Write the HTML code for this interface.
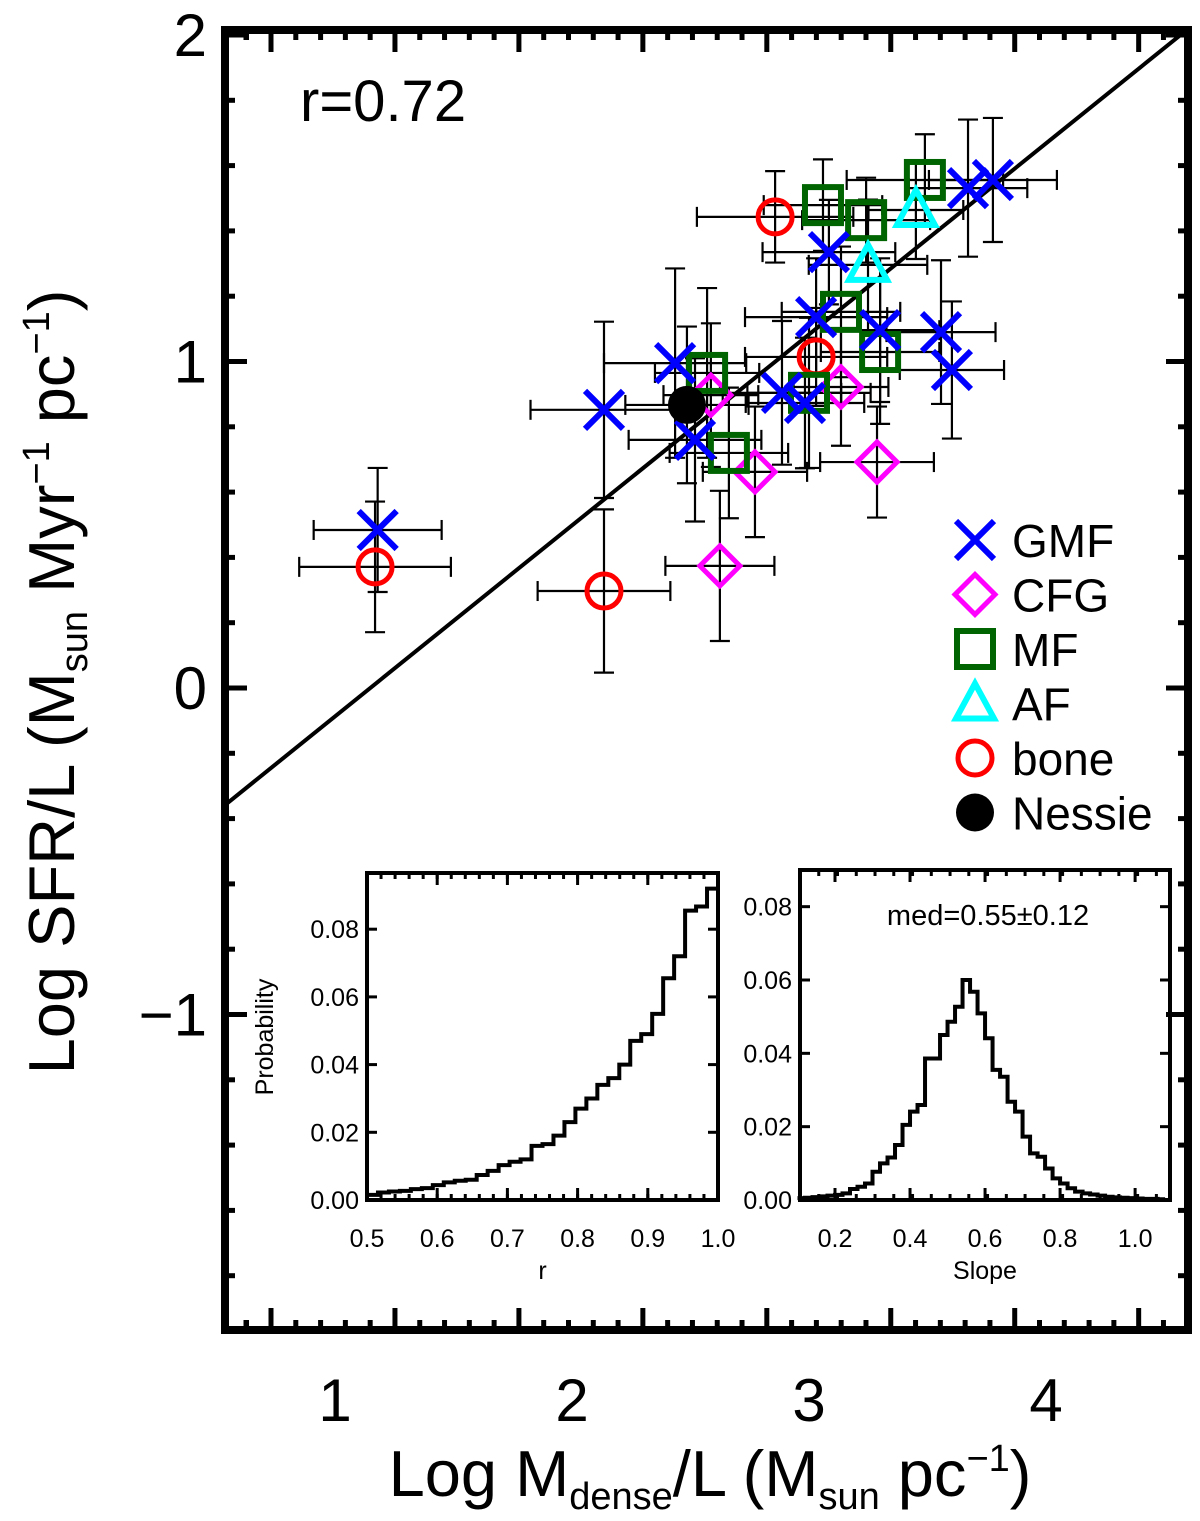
<!DOCTYPE html>
<html><head><meta charset="utf-8"><style>
body{margin:0;background:#fff;}
svg{display:block;font-family:"Liberation Sans",sans-serif;}
</style></head><body>
<svg id="chart" width="1200" height="1521" viewBox="0 0 1200 1521" xmlns="http://www.w3.org/2000/svg">
<g id="main"></g>
</svg>
<script>
// ---- main scatter data ----
const gmfX=[1.18,2.135,2.435,2.519,2.886,3.084,3.030,3.300,3.557,3.603,3.671,3.776,2.983];
const gmfY=[0.484,0.852,0.995,0.760,0.904,1.335,1.136,1.096,1.090,0.974,1.531,1.556,0.873];
const gmfXE=[0.27,0.31,0.30,0.28,0.25,0.28,0.30,0.25,0.23,0.22,0.25,0.27,0.25];
const gmfYE=[0.19,0.27,0.29,0.25,0.22,0.16,0.18,0.22,0.22,0.21,0.21,0.19,0.2];
const cfgX=[2.586,3.135,2.772,3.287,2.624];
const cfgY=[0.897,0.922,0.662,0.692,0.374];
const cfgXE=[0.2,0.2,0.22,0.24,0.23];
const cfgYE=[0.22,0.18,0.2,0.17,0.23];
const mfX=[3.059,3.241,3.489,3.135,3.300,2.570,3.000,2.662];
const mfY=[1.479,1.433,1.556,1.152,1.029,0.965,0.904,0.720];
const mfXE=[0.25,0.27,0.33,0.25,0.25,0.22,0.26,0.25];
const mfYE=[0.14,0.13,0.14,0.2,0.22,0.26,0.23,0.2];
const afX=[3.451,3.249];
const afY=[1.464,1.296];
const afXE=[0.2,0.25];
const afYE=[0.15,0.2];
const boneX=[2.857,3.030,1.169,2.135];
const boneY=[1.443,1.014,0.371,0.297];
const boneXE=[0.33,0.3,0.32,0.28];
const boneYE=[0.14,0.15,0.2,0.25];
const nessieX=[2.485];
const nessieY=[0.867];
const nessieXE=[0.26];
const nessieYE=[0.24];
const fitA=-0.672, fitB=0.585;
const yTickVals=[2,1,0,-1];
const yTickLabels=["2","1","0","\u22121"];
const xLabelVals=[1,2,3,4];
const xLabelText=["1","2","3","4"];
const xMajorFrame=[0.73,1.253,1.776,2.299,2.822,3.345,3.868,4.391];
// ---- inset histograms ----
const rBinStart=0.5, rBinW=1/64;
const rHist=[0.0015,0.0022,0.0025,0.0027,0.0032,0.0035,0.0044,0.0052,0.0057,0.006,0.0074,0.0086,0.0103,0.0113,0.012,0.016,0.0165,0.019,0.023,0.027,0.030,0.034,0.036,0.040,0.047,0.049,0.055,0.0655,0.072,0.0855,0.0867,0.092];
const sBinStart=0.10, sBinW=0.02;
const sHist=[0.0005,0.0006,0.0008,0.001,0.0012,0.0014,0.0018,0.003,0.0036,0.0045,0.0077,0.01,0.0116,0.015,0.0205,0.0241,0.0259,0.0386,0.0386,0.045,0.0486,0.0527,0.06,0.0568,0.0509,0.0441,0.0355,0.0336,0.0268,0.0241,0.0173,0.0127,0.0118,0.0086,0.0059,0.0045,0.0032,0.0023,0.0018,0.0015,0.0012,0.0009,0.0007,0.0006,0.0005,0.0004,0.0003,0.0003,0.0002];
const rTicks=[0.5,0.6,0.7,0.8,0.9,1.0];
const sTicks=[0.2,0.4,0.6,0.8,1.0];
const pTicks=[0,0.02,0.04,0.06,0.08];

const NS="http://www.w3.org/2000/svg";
const root=document.getElementById('main');
function el(tag,attrs,parent,text){const e=document.createElementNS(NS,tag);for(const k in attrs)e.setAttribute(k,attrs[k]);if(text!==undefined)e.textContent=text;(parent||root).appendChild(e);return e;}

const L=225,R=1188,T=30,B=1330;
const X=v=>335+(v-1)*237;
const Y=v=>688-v*326.5;
const xMin=(L-335)/237+1, xMax=(R-335)/237+1;

const clip=el('clipPath',{id:'mc'});
el('rect',{x:L,y:T,width:R-L,height:B-T},clip);
const fit=el('line',{x1:X(xMin),y1:Y(fitA+fitB*xMin),x2:X(xMax),y2:Y(fitA+fitB*xMax),stroke:'#000','stroke-width':4,'clip-path':'url(#mc)'});



const tg=el('g',{});


for(let v=-1.8;v<=2.01;v+=0.2){const big=yTickVals.some(t=>Math.abs(t-v)<1e-6);const len=big?22:10;const y=Y(v);
 el('line',{x1:L,y1:y,x2:L+len,y2:y,stroke:'#000','stroke-width':5},tg);
 el('line',{x1:R,y1:y,x2:R-len,y2:y,stroke:'#000','stroke-width':5},tg);}
for(let i=0;i<xMajorFrame.length;i++){for(let j=0;j<5;j++){const v=xMajorFrame[i]+j*0.1046;const x=X(v);if(x<L+3||x>R-3)continue;const len=j==0?22:10;
 el('line',{x1:x,y1:B,x2:x,y2:B-len,stroke:'#000','stroke-width':5},tg);
 el('line',{x1:x,y1:T,x2:x,y2:T+len,stroke:'#000','stroke-width':5},tg);}
 for(let j=1;j<5;j++){const x=X(xMajorFrame[0]-j*0.1046);if(x>L+3){el('line',{x1:x,y1:B,x2:x,y2:B-10,stroke:'#000','stroke-width':5},tg);el('line',{x1:x,y1:T,x2:x,y2:T+10,stroke:'#000','stroke-width':5},tg);}}}
const frame=el('rect',{x:L,y:T,width:R-L,height:B-T,fill:'none',stroke:'#000','stroke-width':8});



yTickVals.forEach((v,i)=>{const t=el('text',{x:207,y:Y(v)+21,'text-anchor':'end','font-size':60},root,yTickLabels[i]);
 
 });
xLabelVals.forEach((v,i)=>{const t=el('text',{x:X(v),y:1421,'text-anchor':'middle','font-size':60},root,xLabelText[i]);
 
 });

function errs(xs,ys,xe,ye,name){const g=el('g',{stroke:'#000','stroke-width':2.2,fill:'none'});
 
 
 xs.forEach((x,i)=>{const px=X(x),py=Y(ys[i]),x1=X(x-xe[i]),x2=X(x+xe[i]),y1=Y(ys[i]+ye[i]),y2=Y(ys[i]-ye[i]);
 el('line',{x1:x1,y1:py,x2:x2,y2:py},g);el('line',{x1:x1,y1:py-10,x2:x1,y2:py+10},g);el('line',{x1:x2,y1:py-10,x2:x2,y2:py+10},g);
 el('line',{x1:px,y1:y1,x2:px,y2:y2},g);el('line',{x1:px-10,y1:y1,x2:px+10,y2:y1},g);el('line',{x1:px-10,y1:y2,x2:px+10,y2:y2},g);});}
errs(boneX,boneY,boneXE,boneYE,'bone');errs(cfgX,cfgY,cfgXE,cfgYE,'cfg');errs(mfX,mfY,mfXE,mfYE,'mf');errs(afX,afY,afXE,afYE,'af');errs(gmfX,gmfY,gmfXE,gmfYE,'gmf');errs(nessieX,nessieY,nessieXE,nessieYE,'nessie');

function mark(type,px,py,parent){
 if(type=='x'){const s=19;const g=el('g',{stroke:'#0000ff','stroke-width':6},parent);el('line',{x1:px-s,y1:py-s,x2:px+s,y2:py+s},g);el('line',{x1:px-s,y1:py+s,x2:px+s,y2:py-s},g);return g;}
 if(type=='d')return el('polygon',{points:`${px},${py-20} ${px+20},${py} ${px},${py+20} ${px-20},${py}`,fill:'none',stroke:'#ff00ff','stroke-width':5},parent);
 if(type=='s')return el('rect',{x:px-18,y:py-18,width:36,height:36,fill:'none',stroke:'#006400','stroke-width':6},parent);
 if(type=='t')return el('polygon',{points:`${px},${py-20} ${px+19},${py+15} ${px-19},${py+15}`,fill:'none',stroke:'#00ffff','stroke-width':6},parent);
 if(type=='o')return el('circle',{cx:px,cy:py,r:17,fill:'none',stroke:'#ff0000','stroke-width':5},parent);
 if(type=='n')return el('circle',{cx:px,cy:py,r:19,fill:'#000'},parent);}
function series(xs,ys,type,name){const g=el('g',{});
 
 
 xs.forEach((x,i)=>{const m=mark(type,X(x),Y(ys[i]),g);
 
 });}
series(boneX,boneY,'o','bone');series(cfgX,cfgY,'d','cfg');series(mfX,mfY,'s','mf');series(afX,afY,'t','af');series(gmfX,gmfY,'x','gmf');series(nessieX,nessieY,'n','nessie');

const legNames=['GMF','CFG','MF','AF','bone','Nessie'];
const legTypes=['x','d','s','t','o','n'];
const lg=el('g',{});


legNames.forEach((n,i)=>{const y=540+i*54.5;const e=el('g',{},lg);
 
 
 mark(legTypes[i],975,y,e);el('text',{x:1012,y:y+17,'font-size':46},e,n);});

const rt=el('text',{x:300,y:121,'font-size':58},root,'r=0.72');



function inset(name,x0,x1,y0,y1,vmin,vmax,pmax,bins,start,w,xt,xlabel,minorX){
 const g=el('g',{});
 
 
 const sx=v=>x0+(v-vmin)/(vmax-vmin)*(x1-x0);
 const sy=v=>y1-v/pmax*(y1-y0);
 let d='';bins.forEach((v,i)=>{const a=sx(start+i*w),b=sx(start+(i+1)*w),y=sy(v);d+=(i==0?`M${a},${y}`:`L${a},${y}`)+`L${b},${y}`;});
 const p=el('path',{d:d,fill:'none',stroke:'#000','stroke-width':4},g);
 
 
 pTicks.forEach(v=>{const y=sy(v);el('line',{x1:x0,y1:y,x2:x0+10,y2:y,stroke:'#000','stroke-width':3},g);el('line',{x1:x1,y1:y,x2:x1-10,y2:y,stroke:'#000','stroke-width':3},g);
  const t=el('text',{x:x0-8,y:y+9,'text-anchor':'end','font-size':25},g,v.toFixed(2));
  
  });
 xt.forEach(v=>{const x=sx(v);el('line',{x1:x,y1:y1,x2:x,y2:y1-12,stroke:'#000','stroke-width':3},g);el('line',{x1:x,y1:y0,x2:x,y2:y0+12,stroke:'#000','stroke-width':3},g);
  const t=el('text',{x:x,y:1247,'text-anchor':'middle','font-size':25},g,v.toFixed(1));
  
  });
 for(let v=vmin;v<=vmax+1e-9;v+=minorX){const x=sx(v);el('line',{x1:x,y1:y1,x2:x,y2:y1-6,stroke:'#000','stroke-width':3},g);el('line',{x1:x,y1:y0,x2:x,y2:y0+6,stroke:'#000','stroke-width':3},g);}
 el('rect',{x:x0,y:y0,width:x1-x0,height:y1-y0,fill:'none',stroke:'#000','stroke-width':4},g);
 const xl=el('text',{x:(x0+x1)/2,y:1279,'text-anchor':'middle','font-size':25},g,xlabel);
 
 
 return g;}
inset('r-inset',367,718,873,1200,0.5,1.0,0.0966,rHist,rBinStart,rBinW,rTicks,'r',0.02);
inset('slope-inset',800,1170,870,1200,0.1067,1.093,0.09,sHist,sBinStart,sBinW,sTicks,'Slope',0.05);
const pl=el('text',{x:0,y:0,'text-anchor':'middle','font-size':25,transform:'translate(273,1037) rotate(-90)'},root,'Probability');


const med=el('text',{x:988,y:925,'text-anchor':'middle','font-size':29},root,'med=0.55\u00b10.12');


</script>
<svg style="position:absolute;left:0;top:0" width="1200" height="1521">
<text transform="translate(74,682) rotate(-90)" text-anchor="middle" font-family="Liberation Sans, sans-serif" font-size="65">Log SFR/L (M<tspan font-size="38" dy="13">sun</tspan><tspan dy="-13"> Myr</tspan><tspan font-size="38" dy="-25">−1</tspan><tspan dy="25"> pc</tspan><tspan font-size="38" dy="-25">−1</tspan><tspan dy="25">)</tspan></text>
<text x="710" y="1496" text-anchor="middle" font-family="Liberation Sans, sans-serif" font-size="65">Log M<tspan font-size="38" dy="13">dense</tspan><tspan dy="-13">/L (M</tspan><tspan font-size="38" dy="13">sun</tspan><tspan dy="-13"> pc</tspan><tspan font-size="38" dy="-25">−1</tspan><tspan dy="25">)</tspan></text>
</svg>
</body></html>
